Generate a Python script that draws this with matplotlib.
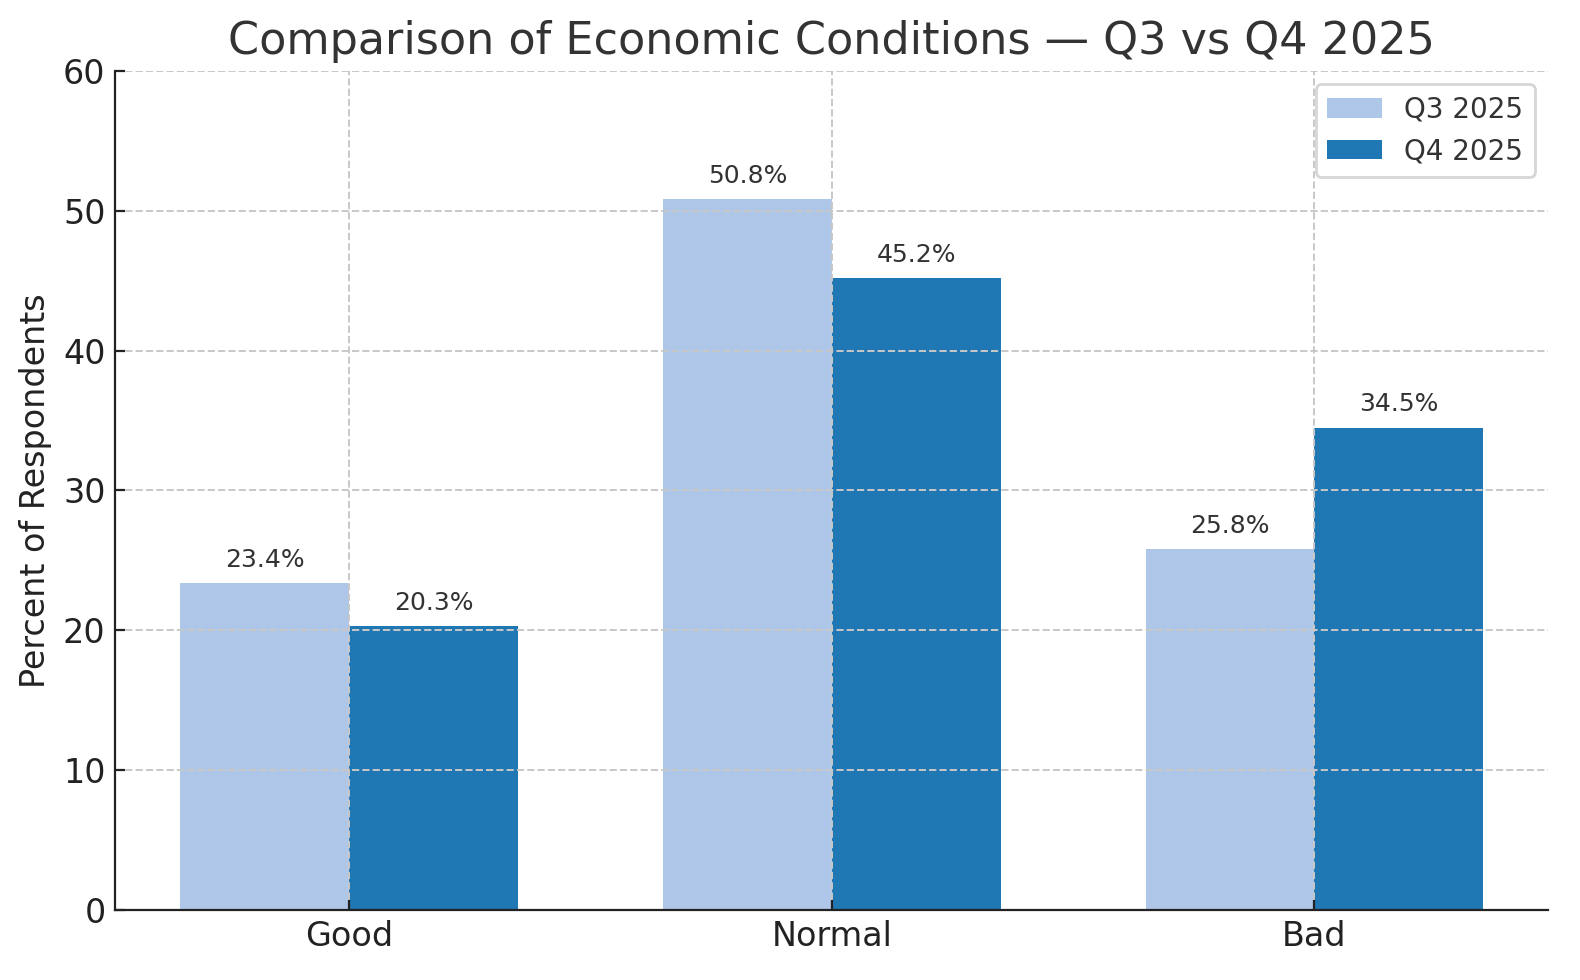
import numpy as np
import matplotlib
matplotlib.use("Agg")
import matplotlib.pyplot as plt

# data
categories = ["Good", "Normal", "Bad"]
q3_values = [23.4, 50.8, 25.8]
q4_values = [20.3, 45.2, 34.5]
series_labels = ["Q3 2025", "Q4 2025"]

fig, ax = plt.subplots(figsize=(7.9, 4.9), dpi=200)

x = np.arange(len(categories))
width = 0.35

bars_q3 = ax.bar(x - width / 2, q3_values, width, color="#aec7e8", label=series_labels[0])
bars_q4 = ax.bar(x + width / 2, q4_values, width, color="#1f77b4", label=series_labels[1])

# value labels above bars
for bars in (bars_q3, bars_q4):
    for b in bars:
        ax.annotate(f"{b.get_height():.1f}%",
                    xy=(b.get_x() + b.get_width() / 2, b.get_height()),
                    xytext=(0, 4), textcoords="offset points",
                    ha="center", va="bottom", fontsize=9, color="#333333")

ax.set_title("Comparison of Economic Conditions \u2014 Q3 vs Q4 2025", fontsize=16, color="#333333")
ax.set_ylabel("Percent of Respondents", fontsize=12, color="#222222")
ax.set_xticks(x)
ax.set_xticklabels(categories)
ax.tick_params(axis="both", labelsize=12, direction="in", colors="#222222")
ax.set_ylim(0, 60)

ax.grid(True, linestyle="--", color="#c8c8c8", linewidth=0.7)
for s in ("top", "right"):
    ax.spines[s].set_visible(False)
for s in ("left", "bottom"):
    ax.spines[s].set_color("#222222")

leg = ax.legend(loc="upper right", fontsize=10)
for t in leg.get_texts():
    t.set_color("#333333")

fig.subplots_adjust(left=0.073, right=0.98, top=0.928, bottom=0.071)
fig.savefig("out.png", dpi=200)
